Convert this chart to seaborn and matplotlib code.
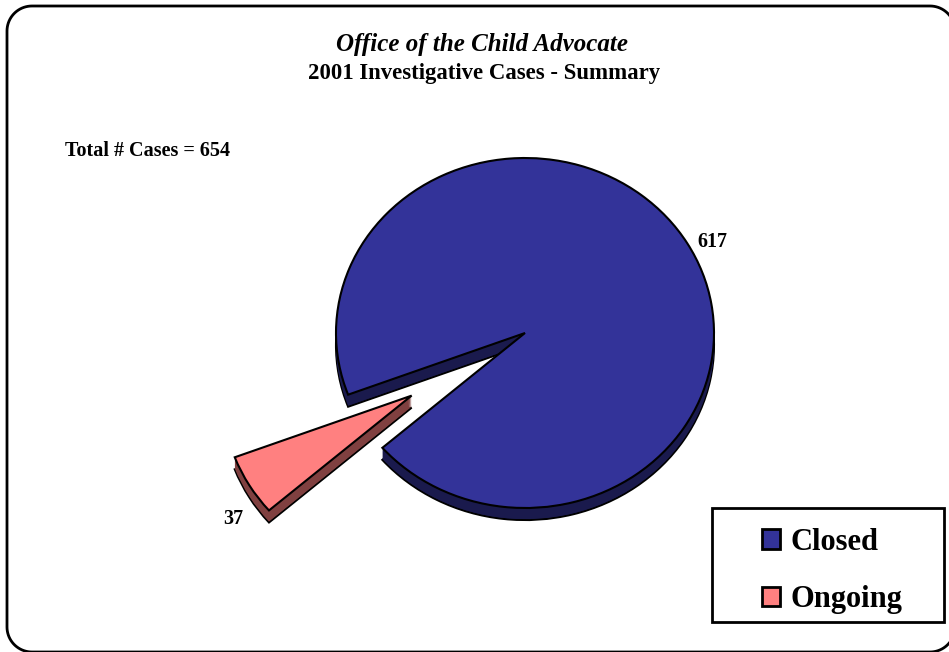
import numpy as np
import matplotlib
matplotlib.use('Agg')
import matplotlib.pyplot as plt
import seaborn as sns
from matplotlib.patches import Polygon, Rectangle

# データ
categories = ['Closed', 'Ongoing']
cases = [617, 37]
total_cases = 654
title_top = 'Office of the Child Advocate'
title_sub = '2001 Investigative Cases - Summary'

sns.set_style('white')
plt.rcParams['font.family'] = ['Liberation Serif', 'DejaVu Serif']
plt.rcParams['text.color'] = 'black'

top_colors = ['#333399', '#ff8080']
side_colors = ['#1a1a4d', '#804040']

W, H = 949, 652
fig = plt.figure(figsize=(W / 100, H / 100), dpi=100)

# 背景・文字用の軸（ピクセル座標, y は上向き）
bg = fig.add_axes([0, 0, 1, 1], zorder=0)
bg.set_xlim(0, W)
bg.set_ylim(0, H)
bg.axis('off')


def rounded_frame(x0, y0, x1, y1, r, n=20):
    pts = []
    corners = [(x1 - r, y1 - r, 0), (x0 + r, y1 - r, 90),
               (x0 + r, y0 + r, 180), (x1 - r, y0 + r, 270)]
    for ccx, ccy, a0 in corners:
        t = np.radians(np.linspace(a0, a0 + 90, n))
        pts += list(zip(ccx + r * np.cos(t), ccy + r * np.sin(t)))
    return np.array(pts)


bg.add_patch(Polygon(rounded_frame(7, H - 652, 955, H - 6, 25), closed=True,
                     facecolor='none', edgecolor='black', linewidth=2))

# パイ用の軸（楕円に見せるため y を縮める）
ax = fig.add_axes([0, 0, 1, 1], zorder=1)
ax.patch.set_alpha(0)
squash = 175 / 189
cx, cy = 525, (H - 333) / squash
radius = 189
depth = 13
explode = [0, 132]
start = 221

# 3D風の側面（下にずらしたパイを重ねる）
for d in range(depth, 0, -1):
    ax.pie(cases, colors=side_colors, startangle=start, counterclock=True,
           explode=explode, center=(cx, cy - d), radius=radius,
           wedgeprops=dict(edgecolor='black' if d == depth else 'none',
                           linewidth=1.5 if d == depth else 0))

# 上面
wedges, _ = ax.pie(cases, colors=top_colors, startangle=start, counterclock=True,
                   explode=explode, center=(cx, cy), radius=radius,
                   wedgeprops=dict(edgecolor='black', linewidth=1.5))

# 値ラベル
label_dist = [1.12, 1.18]
label_turn = [-3, 6]
for w, v, dist, turn in zip(wedges, cases, label_dist, label_turn):
    ang = np.radians((w.theta1 + w.theta2) / 2 + turn)
    px, py = w.center
    ax.text(px + dist * radius * np.cos(ang), py + dist * radius * np.sin(ang), str(v),
            ha='center', va='center', fontsize=14.5, fontweight='bold')

ax.set_aspect('auto')
ax.set_xlim(0, W)
ax.set_ylim(0, H / squash)
ax.axis('off')

# タイトル
bg.text(482, H - 44, title_top, ha='center', va='center', fontsize=18,
        style='italic', fontweight='bold')
bg.text(484, H - 74, title_sub, ha='center', va='center', fontsize=16.4, fontweight='bold')
bg.text(65, H - 151, f'Total # Cases = {total_cases}', ha='left', va='center',
        fontsize=14.5, fontweight='bold')

# 凡例
bg.add_patch(Rectangle((712, H - 622), 232, 114, facecolor='white',
                       edgecolor='black', linewidth=2, zorder=3))
leg = bg.legend(wedges, categories, loc='center',
                bbox_to_anchor=(832 / W, (H - 571) / H),
                frameon=False, prop=dict(size=22, weight='bold'),
                handlelength=0.6, handleheight=0.6, handletextpad=0.35,
                labelspacing=0.92, borderaxespad=0)
leg.set_zorder(4)
bg.set_zorder(2)
for h in leg.legend_handles:
    h.set_edgecolor('black')
    h.set_linewidth(2)
leg._legend_box.align = 'left'
for t in leg.get_texts():
    t.set_color('black')

fig.savefig('out.png', dpi=100)
